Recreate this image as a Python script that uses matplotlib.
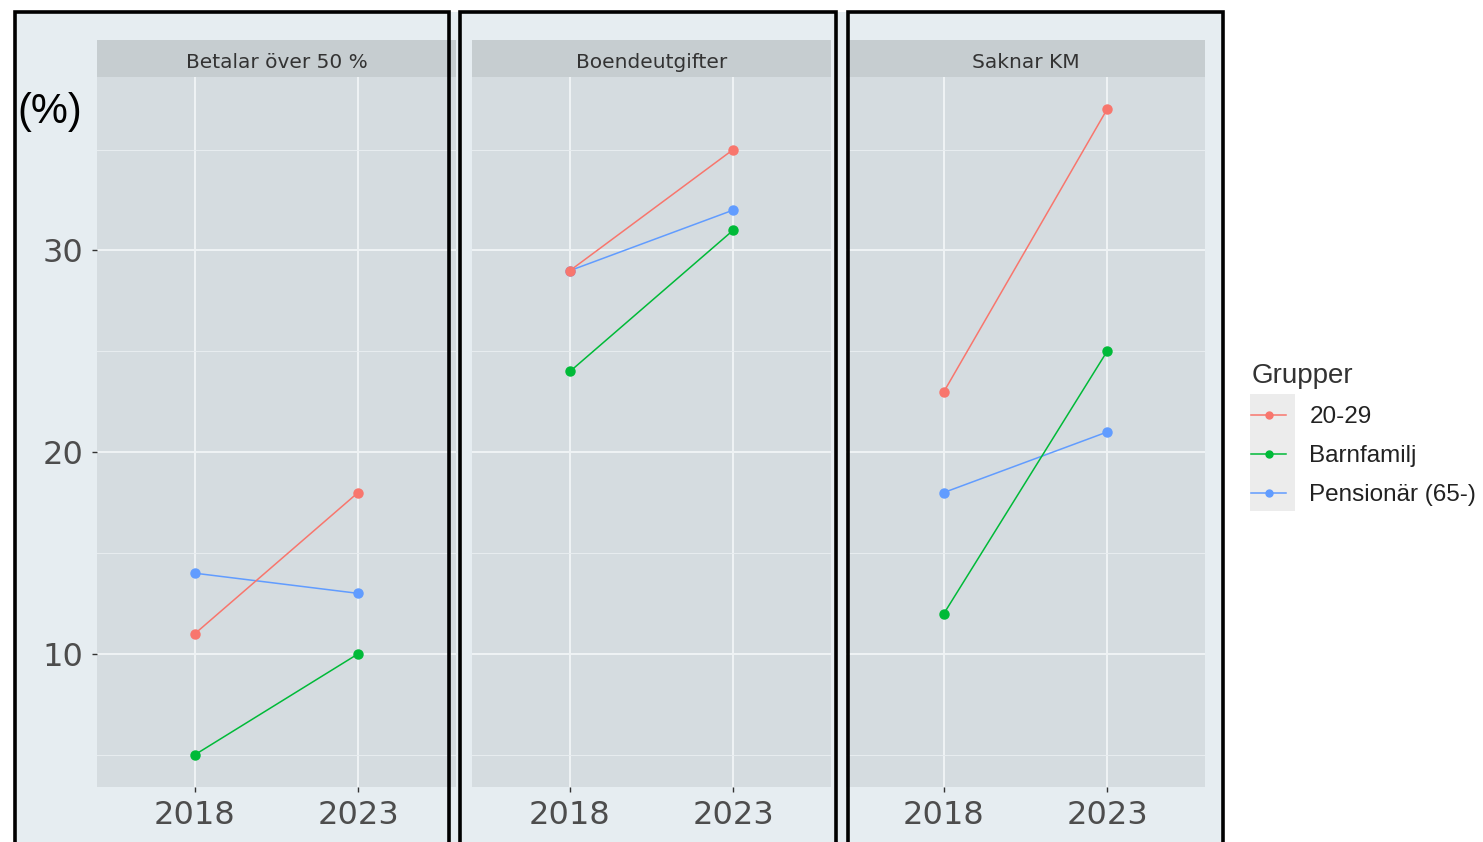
import matplotlib.pyplot as plt
from matplotlib.patches import Rectangle
from matplotlib.lines import Line2D

plt.rcParams['font.family'] = ['Liberation Sans', 'DejaVu Sans']

years = ['2018', '2023']
facets = ['Betalar över 50 %', 'Boendeutgifter', 'Saknar KM']
groups = ['20-29', 'Barnfamilj', 'Pensionär (65-)']
colors = ['#F8766D', '#00BA38', '#619CFF']

# one row per facet, [2018, 2023]
andel_20_29 = [[11, 18], [29, 35], [23, 37]]
andel_barnfamilj = [[5, 10], [24, 31], [12, 25]]
andel_pensionar = [[14, 13], [29, 32], [18, 21]]
series = [andel_20_29, andel_barnfamilj, andel_pensionar]

W, H = 1483, 842
fig = plt.figure(figsize=(W / 100, H / 100), dpi=100)
fig.patch.set_facecolor('white')

def fx(px):
    return px / W

def fy(py):
    return 1 - py / H

# light plot background behind the three framed panels
fig.patches.append(Rectangle((fx(14), 0), fx(1224) - fx(14), fy(12), transform=fig.transFigure,
                             facecolor='#e6edf1', edgecolor='none', zorder=-5))

panel_left = [97, 472, 846]
panel_w = 359
top, bottom = 77, 787
strip_top = 40

for i, name in enumerate(facets):
    ax = fig.add_axes([fx(panel_left[i]), fy(bottom), fx(panel_w), (bottom - top) / H])
    ax.set_facecolor('#d5dce0')
    for s in ax.spines.values():
        s.set_visible(False)
    x = [1, 2]
    # draw red last so it sits on top where values coincide
    for g in [2, 1, 0]:
        vals = series[g][i]
        ax.plot(x, vals, color=colors[g], lw=1.1, zorder=3)
        ax.plot(x, vals, 'o', color=colors[g], ms=6.5, zorder=4)
    ax.set_xlim(0.4, 2.6)
    ax.set_ylim(3.4, 38.6)
    ax.set_xticks(x)
    ax.set_xticklabels(years, family='DejaVu Sans')
    ax.set_yticks([10, 20, 30])
    ax.set_yticklabels(['10', '20', '30'], family='DejaVu Sans')
    ax.set_yticks([5, 15, 25, 35], minor=True)
    ax.grid(True, which='major', color='#eff3f5', lw=1.4, zorder=0)
    ax.grid(True, which='minor', axis='y', color='#e8edf0', lw=0.7, zorder=0)
    ax.set_axisbelow(True)
    ax.tick_params(axis='both', which='major', length=3.5, width=1, color='#333333',
                   labelsize=23, labelcolor='#4d4d4d')
    ax.tick_params(axis='x', pad=6)
    ax.tick_params(axis='y', pad=6)
    ax.tick_params(axis='y', which='minor', length=0)
    if i > 0:
        ax.tick_params(axis='y', left=False, labelleft=False)

    # facet strip
    sax = fig.add_axes([fx(panel_left[i]), fy(top), fx(panel_w), (top - strip_top) / H])
    sax.set_facecolor('#c6cdd0')
    sax.set_xticks([])
    sax.set_yticks([])
    for s in sax.spines.values():
        s.set_visible(False)
    sax.text(0.5, 0.4, name, ha='center', va='center', fontsize=14.5, color='#333333',
             family='DejaVu Sans', transform=sax.transAxes)

# black frames around each panel
frames = [(15, 449), (460, 836), (848, 1223)]
for l, r in frames:
    fig.patches.append(Rectangle((fx(l), -0.05), fx(r) - fx(l), fy(12) + 0.05, transform=fig.transFigure,
                                 facecolor='none', edgecolor='black', lw=2.6, zorder=10))

fig.text(fx(17), fy(112), '(%)', fontsize=30, color='black', ha='left', va='center')

# legend
fig.patches.append(Rectangle((fx(1250), fy(511)), fx(45), (511 - 394) / H, transform=fig.transFigure,
                             facecolor='#ececec', edgecolor='none', zorder=1))
leg_handles = [Line2D([], [], color=c, lw=1.1, marker='o', ms=5) for c in colors]
leg = fig.legend(leg_handles, groups, title='Grupper', loc='upper left',
                 bbox_to_anchor=(fx(1239), fy(351)), bbox_transform=fig.transFigure,
                 frameon=False, fontsize=17.5, title_fontsize=20, handlelength=1.45,
                 handletextpad=0.95, labelspacing=0.7, borderpad=0, alignment='left')
for t in leg.get_texts():
    t.set_color('#222222')
leg.get_title().set_color('#333333')

fig.savefig('out.png', dpi=100)
